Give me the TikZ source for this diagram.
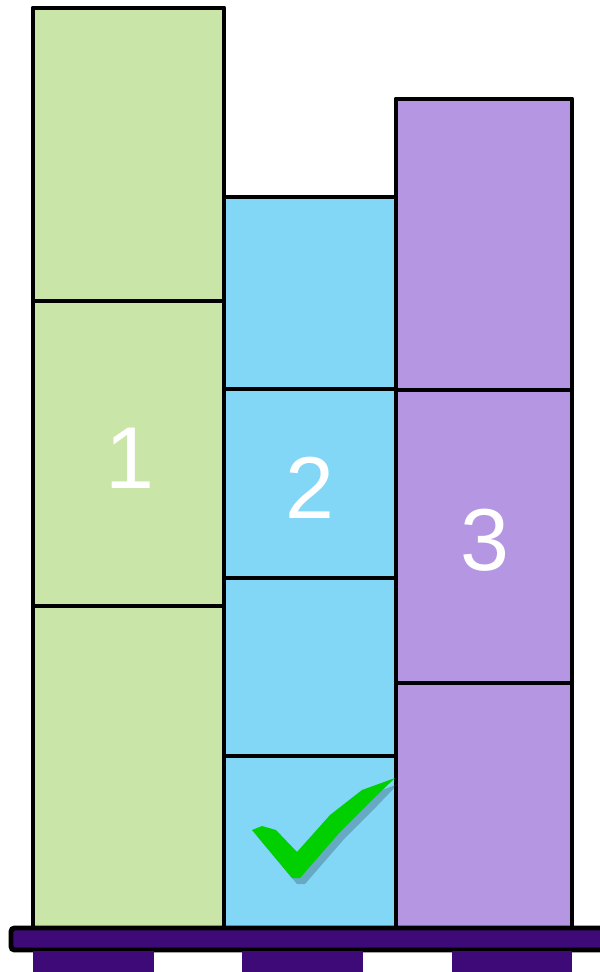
\documentclass[tikz,border=0pt]{standalone}
\usepackage{fontspec}
\setsansfont{Liberation Sans}
\usepackage{tikz}
\usetikzlibrary{positioning}

\definecolor{crateA}{HTML}{C9E5A7}
\definecolor{crateB}{HTML}{82D7F7}
\definecolor{crateC}{HTML}{B596E2}
\definecolor{pallet}{HTML}{3E0A78}
\definecolor{tick}{HTML}{00D000}

\begin{document}
\begin{tikzpicture}[x=0.01cm, y=-0.01cm,
      crate/.style={draw, line width=1.4pt, line join=round},
      num/.style={text=white, font=\fontsize{25}{28}\selectfont\sffamily}]
    \useasboundingbox (0,0) rectangle (600,972);
    % --- stack 1 (green) ---
    \draw[crate, fill=crateA] (33,8) rectangle (224,301);
    \draw[crate, fill=crateA] (33,301) rectangle (224,606);
    \draw[crate, fill=crateA] (33,606) rectangle (224,928);
    % --- stack 2 (blue) ---
    \draw[crate, fill=crateB] (224,197) rectangle (396,389);
    \draw[crate, fill=crateB] (224,389) rectangle (396,578);
    \draw[crate, fill=crateB] (224,578) rectangle (396,756);
    \draw[crate, fill=crateB] (224,756) rectangle (396,928);
    % --- stack 3 (purple) ---
    \draw[crate, fill=crateC] (396,99) rectangle (572,390);
    \draw[crate, fill=crateC] (396,390) rectangle (572,683);
    \draw[crate, fill=crateC] (396,683) rectangle (572,928);
    % --- labels ---
    \node[num] (one)   at (130,458) {1};
    \node[num] (two)   at (310,488) {2};
    \node[num] (three) at (485,540) {3};
    % --- pallet ---
    \draw[line width=1.4pt, fill=pallet, rounded corners=1pt] (11,928) rectangle (604,950);
    \fill[pallet] (33,951) rectangle (154,972);
    \fill[pallet] (242,951) rectangle (363,972);
    \fill[pallet] (452,951) rectangle (572,972);
    % --- check mark ---
    \fill[black!70!crateB, opacity=0.3] (257,836) -- (267,832) -- (281,836) -- (302,858) -- (335,821)
      -- (367,796) -- (398,784) -- (377,806) -- (345,838) -- (305,884) -- (297,884) -- cycle;
    \fill[tick] (252,830) -- (262,826) -- (276,830) -- (297,852) -- (330,815)
      -- (362,790) -- (395,778) -- (372,800) -- (340,832) -- (300,878) -- (292,878) -- cycle;
\end{tikzpicture}
\end{document}
